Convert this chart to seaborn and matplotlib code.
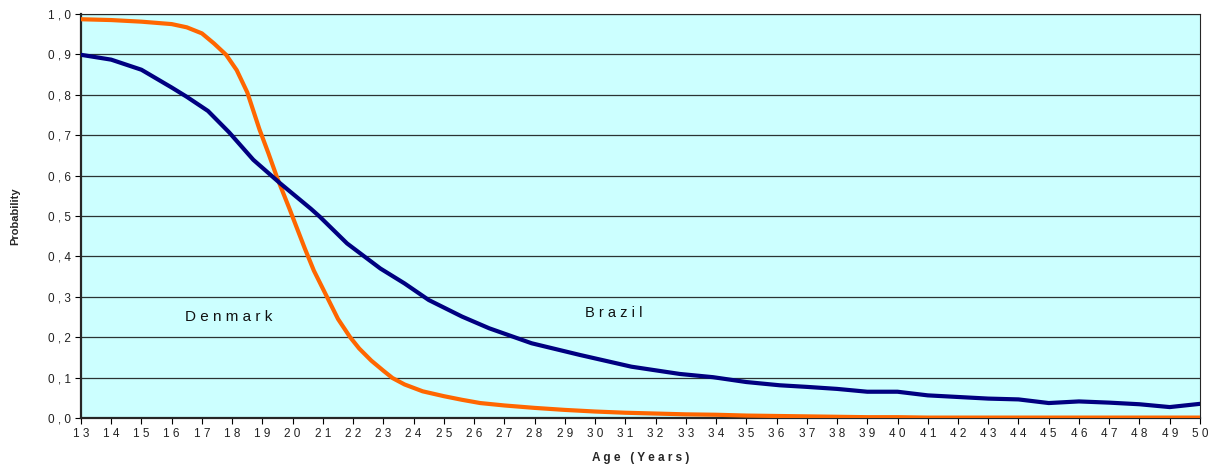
import matplotlib
matplotlib.use("Agg")
import matplotlib.pyplot as plt
import seaborn as sns
import pandas as pd
import numpy as np

# Denmark (orange), read more densely where the curve bends
age_dk = [13, 14, 15, 16, 16.5, 17, 17.4, 17.8, 18.15, 18.5, 18.9, 19.2, 19.5, 19.9,
          20.1, 20.4, 20.7, 21.2, 21.5, 21.9, 22.2, 22.6, 23, 23.3, 23.7, 24.3, 25, 25.6,
          26.2, 27, 28, 29, 30, 31, 32, 33, 34, 35, 36, 37, 38, 39, 40, 41, 42, 43, 44,
          45, 46, 47, 48, 49, 50]
denmark = [0.987, 0.985, 0.981, 0.975, 0.967, 0.952, 0.927, 0.899, 0.861, 0.806, 0.715,
           0.655, 0.592, 0.517, 0.478, 0.42, 0.365, 0.29, 0.245, 0.2, 0.172, 0.142, 0.117,
           0.099, 0.083, 0.066, 0.054, 0.045, 0.037, 0.031, 0.025, 0.02, 0.016, 0.013,
           0.011, 0.009, 0.008, 0.006, 0.005, 0.004, 0.003, 0.002, 0.002, 0.001, 0.001,
           0.001, 0.001, 0.001, 0.001, 0.001, 0.001, 0.001, 0.001]

# Brazil (navy)
age_br = [13, 14, 15, 16, 16.5, 17.2, 17.9, 18.7, 19.6, 20.6, 20.9, 21.8, 22.9, 23.7,
          24.5, 25.6, 26.5, 27.9, 29.5, 31.2, 32.8, 33.9, 35, 36.1, 37, 38, 39, 40, 41,
          42, 43, 44, 45, 46, 47, 48, 49, 50]
brazil = [0.899, 0.887, 0.862, 0.818, 0.795, 0.76, 0.707, 0.639, 0.58, 0.518, 0.498,
          0.432, 0.37, 0.333, 0.292, 0.251, 0.222, 0.185, 0.156, 0.127, 0.109, 0.101,
          0.089, 0.081, 0.077, 0.072, 0.065, 0.065, 0.056, 0.052, 0.048, 0.046, 0.037,
          0.041, 0.038, 0.034, 0.027, 0.035]

df = pd.concat([
    pd.DataFrame({"age": age_dk, "prob": denmark, "country": "Denmark"}),
    pd.DataFrame({"age": age_br, "prob": brazil, "country": "Brazil"}),
])


def spaced(s):
    # the original uses wide letter spacing everywhere
    return " ".join(s)


sns.set_style("ticks")
plt.rcParams["font.family"] = ["Liberation Sans", "DejaVu Sans"]

fig = plt.figure(figsize=(12.1, 4.65), dpi=100)
ax = fig.add_axes([0.0669, 0.1011, 0.9248, 0.8688])
ax.set_facecolor("#CCFFFF")

sns.lineplot(data=df, x="age", y="prob", hue="country",
             palette={"Denmark": "#FF6600", "Brazil": "#000080"},
             linewidth=3.0, legend=False, ax=ax, zorder=3,
             solid_joinstyle="round", solid_capstyle="round")

ax.set_xlim(13, 50)
ax.set_ylim(0, 1.0)
xt = np.arange(13, 51)
ax.set_xticks(xt)
ax.set_xticklabels([spaced(str(v)) for v in xt], fontsize=8.5, color="#222222")
yt = np.round(np.arange(0, 1.01, 0.1), 1)
ax.set_yticks(yt)
ax.set_yticklabels([spaced(f"{v:.1f}".replace(".", ",")) for v in yt],
                   fontsize=8.5, color="#222222")
ax.tick_params(axis="both", length=4, width=0.8, color="black", pad=3)

ax.yaxis.grid(True, color="#2a3333", linewidth=0.9)
ax.set_axisbelow(True)
for side in ["top", "right"]:
    ax.spines[side].set_visible(True)
    ax.spines[side].set_linewidth(0.8)
ax.spines["left"].set_linewidth(1.6)
ax.spines["bottom"].set_linewidth(1.6)

ax.set_xlabel(spaced("Age (Years)"), fontsize=8.5, fontweight="bold", labelpad=9)
ax.set_ylabel("Probability", fontsize=8, fontweight="bold", labelpad=20)

ax.text(16.45, 0.25, spaced("Denmark"), fontsize=11, color="#111111", va="center")
ax.text(29.65, 0.26, spaced("Brazil"), fontsize=10.5, color="#111111", va="center")

fig.savefig("out.png", dpi=100)
